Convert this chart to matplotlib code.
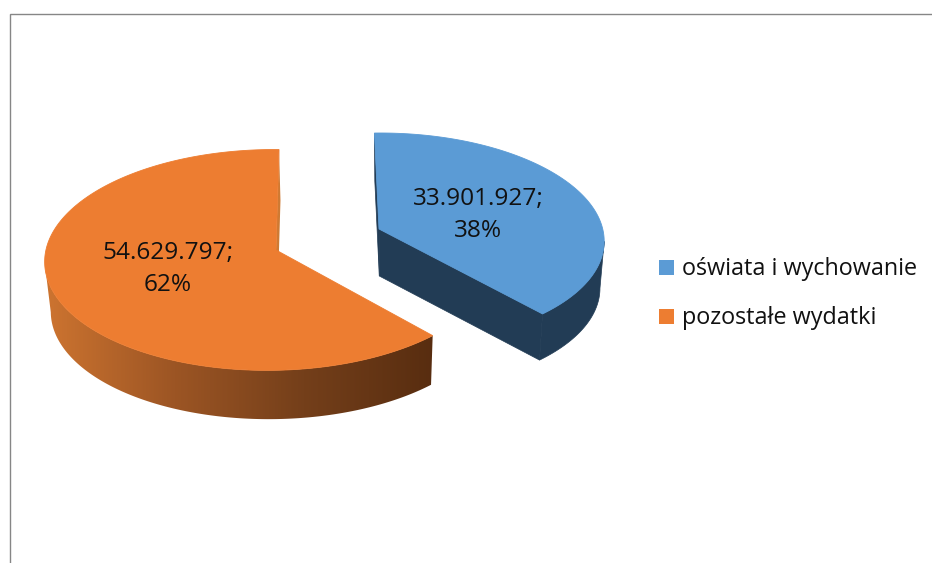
import numpy as np
import matplotlib
matplotlib.use("Agg")
import matplotlib.pyplot as plt
from matplotlib.colors import LinearSegmentedColormap
from matplotlib.patches import Polygon, Rectangle

categories = ["oświata i wychowanie", "pozostałe wydatki"]
values = [33901927, 54629797]
value_labels = ["33.901.927;", "54.629.797;"]
percent_labels = ["38%", "62%"]
top_colors = ["#5B9BD5", "#ED7D31"]

plt.rcParams["font.family"] = ["Open Sans", "DejaVu Sans"]

W, H = 932, 563
fig = plt.figure(figsize=(W / 100, H / 100), dpi=100)
ax = fig.add_axes([0, 0, 1, 1])
ax.set_xlim(0, W)
ax.set_ylim(H, 0)
ax.axis("off")

# grey frame, only top and left show
ax.plot([W, 9.5, 9.5], [13.5, 13.5, H], color="#868686", lw=1.0, solid_joinstyle="miter")

# apex, radius x, radius y, perspective down, perspective side, skew, wall offset
view = [
    dict(ax=379, ay=229, R=217, ry=104.6, k=0.09, m=0.03, c=5, dx=0.3, dy=47),
    dict(ax=276, ay=250, R=225, ry=109.5, k=0.09, m=-0.022, c=-3.3, dx=1.5, dy=50),
]
side_scale = (0.98, 0.99)

def project(t, v, bottom=False):
    # t is clockwise from the top, in radians
    a = np.sin(t)
    b = -np.cos(t)
    s = 1 / (1 - v["k"] * b - v["m"] * a)
    x = (v["R"] * a + v["c"] * b) * s
    y = v["ry"] * b * s
    if bottom:
        return v["ax"] + v["dx"] + x * side_scale[0], v["ay"] + v["dy"] + y * side_scale[1]
    return v["ax"] + x, v["ay"] + y

def apex(v, bottom=False):
    if bottom:
        return v["ax"] + v["dx"], v["ay"] + v["dy"]
    return v["ax"], v["ay"]

blue_wall = "#223C55"
orange_wall = LinearSegmentedColormap.from_list(
    "wall", ["#CD7430", "#9C5524", "#743F1A", "#582D10"])

total = sum(values)
start = 0.0
for i, val in enumerate(values):
    sweep = 2 * np.pi * val / total
    v = view[i]
    t = np.linspace(start, start + sweep, 361)
    tx, ty = project(t, v)
    bx, by = project(t, v, True)
    a0 = apex(v)
    a1 = apex(v, True)

    if i == 0:
        # flat cuts and the round side in one dark blue, side only from the right edge on
        for e in (0, -1):
            ax.add_patch(Polygon([a0, (tx[e], ty[e]), (bx[e], by[e]), a1], closed=True,
                                 fc=blue_wall, ec=blue_wall, lw=0.5))
        right = np.argmax(tx)
        side = list(zip(tx[right:], ty[right:])) + list(zip(bx[:right - 1:-1], by[:right - 1:-1]))
        ax.add_patch(Polygon(side, closed=True, fc=blue_wall, ec=blue_wall, lw=0.5))
    else:
        # thin cut wall at the top, then the round front with a gradient
        ax.add_patch(Polygon([a0, (tx[-1], ty[-1]), (bx[-1], by[-1]), a1], closed=True,
                             fc="#CF7A33", ec="none"))
        left = np.argmin(tx)
        side = list(zip(tx[:left + 1], ty[:left + 1])) + list(zip(bx[left::-1], by[left::-1]))
        clip = Polygon(side, closed=True, fc="none", ec="none", transform=ax.transData)
        ax.add_patch(clip)
        grad = np.linspace(0, 1, 256).reshape(1, -1)
        im = ax.imshow(grad, cmap=orange_wall, aspect="auto", interpolation="bilinear",
                       extent=(tx.min(), tx[0], max(by) + 2, min(ty[:left + 1]) - 2))
        im.set_clip_path(clip)
        ax.set_xlim(0, W)
        ax.set_ylim(H, 0)

    pts = [a0] + list(zip(tx, ty))
    ax.add_patch(Polygon(pts, closed=True, fc=top_colors[i], ec=top_colors[i], lw=0.6))
    start += sweep

# data labels
label_pos = [(478, 199, 231), (168, 253, 285)]
for i in range(len(values)):
    lx, y1, y2 = label_pos[i]
    ax.text(lx, y1, value_labels[i], ha="center", va="center", fontsize=17.6, color="#111111")
    ax.text(lx, y2, percent_labels[i], ha="center", va="center", fontsize=17.6, color="#111111")

# legend
legend_y = [269, 318.5]
for i, name in enumerate(categories):
    ax.add_patch(Rectangle((659, legend_y[i] - 9.5), 15, 15, fc=top_colors[i], ec="none"))
    ax.text(682, legend_y[i], name, ha="left", va="center", fontsize=16.8, color="#111111")

fig.savefig("out.png", dpi=100, facecolor="white")
